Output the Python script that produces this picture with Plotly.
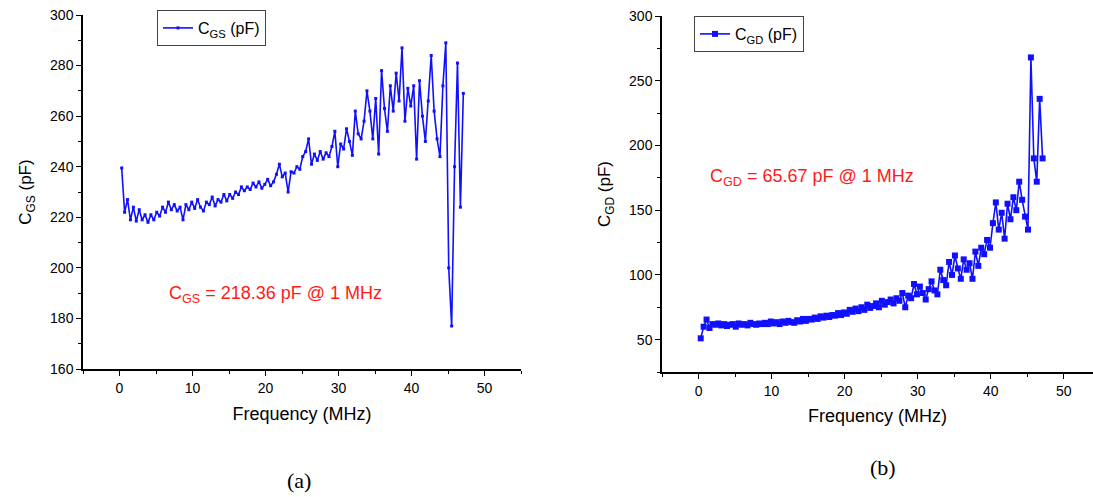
import plotly.graph_objects as go

W, H = 1093, 497

freq_mhz = [
    0.3, 0.7, 1.1, 1.5, 1.9, 2.3, 2.7, 3.1, 3.5, 3.9,
    4.3, 4.7, 5.1, 5.5, 5.9, 6.3, 6.7, 7.1, 7.5, 7.9,
    8.3, 8.7, 9.1, 9.5, 9.9, 10.3, 10.7, 11.1, 11.5, 11.9,
    12.3, 12.7, 13.1, 13.5, 13.9, 14.3, 14.7, 15.1, 15.5, 15.9,
    16.3, 16.7, 17.1, 17.5, 17.9, 18.3, 18.7, 19.1, 19.5, 19.9,
    20.3, 20.7, 21.1, 21.5, 21.9, 22.3, 22.7, 23.1, 23.5, 23.9,
    24.3, 24.7, 25.1, 25.5, 25.9, 26.3, 26.7, 27.1, 27.5, 27.9,
    28.3, 28.7, 29.1, 29.5, 29.9, 30.3, 30.7, 31.1, 31.5, 31.9,
    32.3, 32.7, 33.1, 33.5, 33.9, 34.3, 34.7, 35.1, 35.5, 35.9,
    36.3, 36.7, 37.1, 37.5, 37.9, 38.3, 38.7, 39.1, 39.5, 39.9,
    40.3, 40.7, 41.1, 41.5, 41.9, 42.3, 42.7, 43.1, 43.5, 43.9,
    44.3, 44.7, 45.1, 45.5, 45.9, 46.3, 46.7, 47.1,
]

cgs_pf = [
    239.5, 222, 227, 219, 224, 218.5, 223, 219, 221, 218,
    221, 219, 222, 220.5, 224, 222, 226, 223, 225, 222.5,
    224, 219, 225, 223, 226, 223.5, 227, 224, 222.5, 226,
    225, 228, 224.5, 227, 226, 229, 226.5, 229, 227.5, 230,
    229, 232, 230.5, 232, 231, 233.5, 232, 234, 231.5, 233,
    235, 232.5, 234, 237, 241, 236, 237.5, 230, 238, 237.5,
    240, 239, 244, 246, 251, 241, 245, 242.5, 246, 243,
    245.5, 244, 248, 254, 240, 249, 247, 255, 250, 244.5,
    262, 253, 251, 258, 270, 262, 251, 267, 245, 278,
    263, 254, 272, 262, 277, 266, 287, 258, 271, 264,
    272, 243, 274, 260, 250, 266, 284, 262, 251, 244,
    272, 289, 200, 177, 240, 281, 224, 269,
]

cgd_pf = [
    51, 60, 65.5, 59, 62, 61.5, 62.5, 61, 62, 60.5,
    61.5, 62, 60, 62.5, 61.5, 62, 61, 63, 62, 61.5,
    62.5, 62, 63, 62, 64, 62.5, 63.5, 62, 64, 63,
    64.5, 63.5, 63, 65, 64, 66, 64.5, 66, 65.5, 67,
    66, 68, 67, 68.5, 67.5, 69, 68.5, 70.5, 69, 71,
    70, 73, 71.5, 74, 72, 75, 73, 77, 74.5, 76,
    78, 75, 80, 77, 79, 81, 78, 82, 80, 86,
    75, 84, 82, 93, 85, 91, 86, 81, 89, 95,
    88, 85, 104, 96, 92, 110, 100, 115, 105, 97,
    112, 104, 109, 97, 118, 107, 121, 116, 127, 121,
    140, 156, 135, 148, 128, 155, 143, 160, 150, 172,
    158, 145, 135, 268, 190, 172, 236, 190,
]

x_ticks = [0, 10, 20, 30, 40, 50]
cgs_ticks = [160, 180, 200, 220, 240, 260, 280, 300]
cgd_ticks = [50, 100, 150, 200, 250, 300]

BLUE = "#1010ff"
FONT = "Liberation Sans, Arial, sans-serif"
SERIF = "Liberation Serif, Times New Roman, serif"

def px_x(p):
    return p / W

def px_y(p):
    return 1 - p / H

fig = go.Figure()
fig.add_trace(go.Scatter(
    x=freq_mhz, y=cgs_pf, mode="lines+markers", name="C<sub>GS</sub> (pF)",
    line=dict(color=BLUE, width=1.6), marker=dict(symbol="square", size=3, color=BLUE),
    xaxis="x", yaxis="y", legend="legend",
))
fig.add_trace(go.Scatter(
    x=freq_mhz, y=cgd_pf, mode="lines+markers", name="C<sub>GD</sub> (pF)",
    line=dict(color=BLUE, width=1.6), marker=dict(symbol="square", size=6, color=BLUE),
    xaxis="x2", yaxis="y2", legend="legend2",
))

axis_common = dict(
    showline=True, linecolor="black", linewidth=1.5, ticks="outside", ticklen=5,
    tickwidth=1.2, tickcolor="black", showgrid=False, zeroline=False, automargin=False,
    tickfont=dict(family=FONT, size=14, color="black"),
)
title_font = dict(family=FONT, size=18, color="black")
ytitle_font = dict(family=FONT, size=17, color="black")

fig.update_layout(
    width=W, height=H, margin=dict(l=0, r=0, t=0, b=0, autoexpand=False),
    paper_bgcolor="white", plot_bgcolor="white", showlegend=True,
    xaxis=dict(domain=[px_x(83), px_x(521)], range=[-5, 55], tickvals=x_ticks,
               minor=dict(dtick=5, tick0=0, ticks="outside", ticklen=3, tickcolor="black"),
               title=dict(text="Frequency (MHz)", font=title_font, standoff=13),
               anchor="y", **axis_common),
    yaxis=dict(domain=[px_y(369), px_y(15)], range=[160, 300], tickvals=cgs_ticks,
               minor=dict(dtick=10, tick0=0, ticks="outside", ticklen=3, tickcolor="black"),
               title=dict(text="C<sub>GS</sub> (pF)", font=ytitle_font, standoff=14),
               anchor="x", **axis_common),
    xaxis2=dict(domain=[px_x(662), 1.0], range=[-5, 54.0], tickvals=x_ticks,
                minor=dict(dtick=5, tick0=0, ticks="outside", ticklen=3, tickcolor="black"),
                title=dict(text="Frequency (MHz)", font=title_font, standoff=12),
                anchor="y2", **axis_common),
    yaxis2=dict(domain=[px_y(372), px_y(16)], range=[25, 300], tickvals=cgd_ticks,
                minor=dict(dtick=25, tick0=0, ticks="outside", ticklen=3, tickcolor="black"),
                title=dict(text="C<sub>GD</sub> (pF)", font=ytitle_font, standoff=14),
                anchor="x2", **axis_common),
    legend=dict(x=px_x(157), y=px_y(10), xanchor="left", yanchor="top",
                bordercolor="#444", borderwidth=1, bgcolor="white",
                font=dict(family=FONT, size=16, color="black"), itemwidth=30,
                tracegroupgap=0),
    legend2=dict(x=px_x(694), y=px_y(16), xanchor="left", yanchor="top",
                 bordercolor="#444", borderwidth=1, bgcolor="white",
                 font=dict(family=FONT, size=16, color="black"), itemwidth=30,
                 tracegroupgap=0),
)

fig.add_annotation(text="C<sub>GS</sub> = 218.36 pF @ 1 MHz", x=px_x(275), y=px_y(294),
                   xref="paper", yref="paper", xanchor="center", yanchor="middle", showarrow=False,
                   font=dict(family=FONT, size=18, color="#ff1a1a"))
fig.add_annotation(text="C<sub>GD</sub> = 65.67 pF @ 1 MHz", x=px_x(812), y=px_y(177),
                   xref="paper", yref="paper", xanchor="center", yanchor="middle", showarrow=False,
                   font=dict(family=FONT, size=18, color="#ff1a1a"))
fig.add_annotation(text="(a)", x=px_x(299), y=px_y(480), xref="paper", yref="paper",
                   xanchor="center", yanchor="middle",
                   showarrow=False, font=dict(family=SERIF, size=22, color="black"))
fig.add_annotation(text="(b)", x=px_x(883), y=px_y(467), xref="paper", yref="paper",
                   xanchor="center", yanchor="middle",
                   showarrow=False, font=dict(family=SERIF, size=22, color="black"))

fig.write_html("out.html", config={"displayModeBar": False},
               post_script="document.body.style.margin='0';document.body.style.overflow='hidden';")
